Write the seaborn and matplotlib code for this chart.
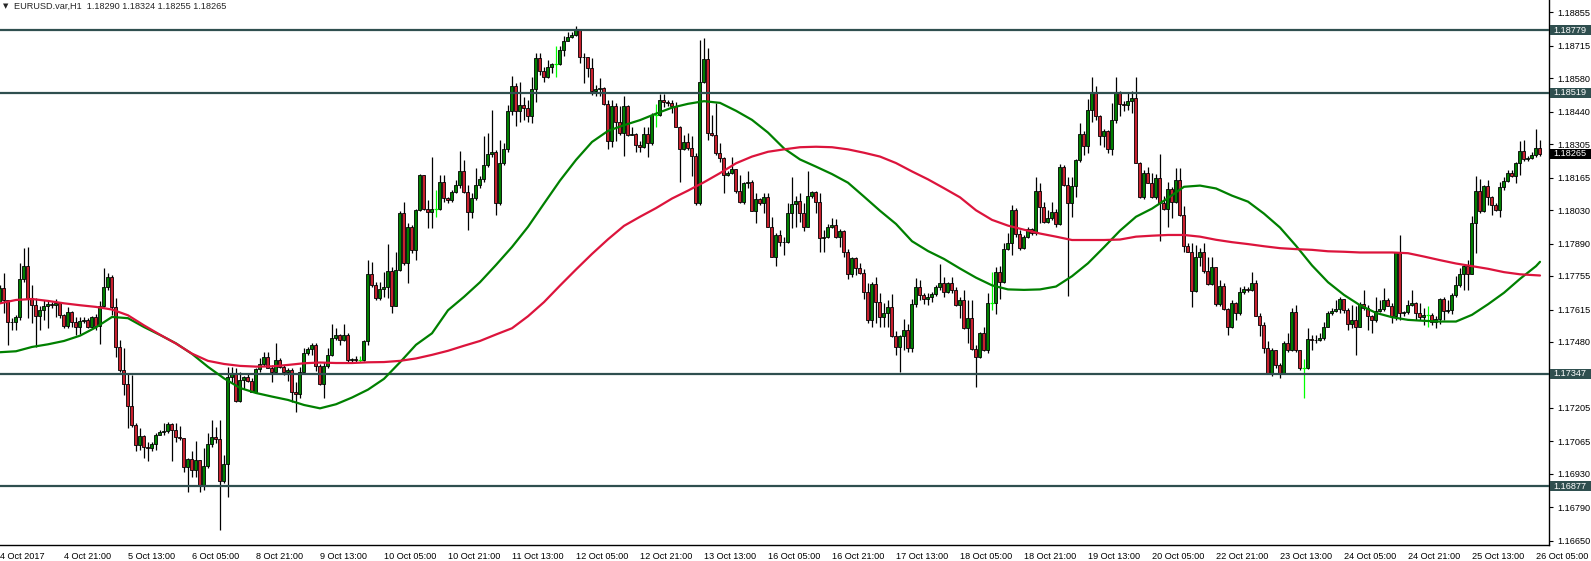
import numpy as np
import pandas as pd
import matplotlib
matplotlib.use("Agg")
import matplotlib.pyplot as plt
import matplotlib.transforms as mtransforms
from matplotlib.patches import Rectangle
import seaborn as sns

sns.set_style("white")
plt.rcParams["font.family"] = ["Liberation Sans", "DejaVu Sans"]

header = "EURUSD.var,H1  1.18290 1.18324 1.18255 1.18265"

# H1 bars, 4 Oct 05:00 .. 26 Oct 06:00 (open of each bar = close of previous)
first_open = 1.17648
closes = [
    1.17704, 1.17655, 1.17565, 1.17562, 1.17585, 1.17743, 1.17797, 1.17662, 1.17634, 1.17590,
    1.17613, 1.17630, 1.17638, 1.17635, 1.17641, 1.17592, 1.17547, 1.17604, 1.17562, 1.17541,
    1.17567, 1.17572, 1.17544, 1.17585, 1.17548, 1.17631, 1.17711, 1.17750, 1.17627, 1.17460,
    1.17363, 1.17303, 1.17214, 1.17134, 1.17050, 1.17088, 1.17043, 1.17039, 1.17053, 1.17092,
    1.17103, 1.17109, 1.17137, 1.17113, 1.17085, 1.17078, 1.16960, 1.16992, 1.16946, 1.16986,
    1.16881, 1.16964, 1.17053, 1.17084, 1.17074, 1.16900, 1.16972, 1.17335, 1.17349, 1.17234,
    1.17321, 1.17335, 1.17319, 1.17273, 1.17367, 1.17387, 1.17419, 1.17373, 1.17353, 1.17405,
    1.17377, 1.17353, 1.17363, 1.17270, 1.17264, 1.17356, 1.17433, 1.17451, 1.17467, 1.17381,
    1.17306, 1.17381, 1.17426, 1.17495, 1.17509, 1.17490, 1.17509, 1.17405, 1.17409, 1.17405,
    1.17405, 1.17484, 1.17762, 1.17718, 1.17665, 1.17701, 1.17711, 1.17776, 1.17630, 1.17781,
    1.18017, 1.17811, 1.17961, 1.17864, 1.18031, 1.18177, 1.18034, 1.18020, 1.18034, 1.18034,
    1.18145, 1.18079, 1.18070, 1.18107, 1.18135, 1.18191, 1.18107, 1.18020, 1.18079, 1.18135,
    1.18159, 1.18218, 1.18264, 1.18271, 1.18061, 1.18225, 1.18284, 1.18441, 1.18548, 1.18441,
    1.18469, 1.18455, 1.18423, 1.18534, 1.18663, 1.18608, 1.18584, 1.18626, 1.18640, 1.18640,
    1.18698, 1.18737, 1.18751, 1.18760, 1.18779, 1.18667, 1.18670, 1.18621, 1.18528, 1.18534,
    1.18538, 1.18473, 1.18316, 1.18464, 1.18399, 1.18350, 1.18464, 1.18343, 1.18349, 1.18302,
    1.18291, 1.18346, 1.18309, 1.18427, 1.18427, 1.18489, 1.18482, 1.18478, 1.18462, 1.18378,
    1.18284, 1.18312, 1.18288, 1.18256, 1.18061, 1.18566, 1.18659, 1.18350, 1.18343, 1.18267,
    1.18246, 1.18177, 1.18186, 1.18202, 1.18111, 1.18065, 1.18142, 1.18146, 1.18028, 1.18075,
    1.18059, 1.18086, 1.17961, 1.17836, 1.17927, 1.17895, 1.17898, 1.18016, 1.18055, 1.18068,
    1.18019, 1.17961, 1.18089, 1.18104, 1.18065, 1.17912, 1.17919, 1.17961, 1.17968, 1.17916,
    1.17943, 1.17856, 1.17762, 1.17829, 1.17787, 1.17769, 1.17690, 1.17572, 1.17720, 1.17645,
    1.17583, 1.17599, 1.17624, 1.17506, 1.17458, 1.17505, 1.17530, 1.17453, 1.17637, 1.17708,
    1.17676, 1.17658, 1.17666, 1.17680, 1.17708, 1.17724, 1.17690, 1.17724, 1.17697, 1.17634,
    1.17655, 1.17537, 1.17578, 1.17449, 1.17416, 1.17519, 1.17446, 1.17644, 1.17644, 1.17770,
    1.17731, 1.17866, 1.17894, 1.18030, 1.17930, 1.17870, 1.17919, 1.17950, 1.17933, 1.18109,
    1.18044, 1.17982, 1.17998, 1.18023, 1.17972, 1.18208, 1.18134, 1.18061, 1.18130, 1.18239,
    1.18347, 1.18297, 1.18447, 1.18519, 1.18422, 1.18339, 1.18361, 1.18283, 1.18406, 1.18519,
    1.18472, 1.18468, 1.18486, 1.18496, 1.18228, 1.18083, 1.18183, 1.18144, 1.18083, 1.18162,
    1.18058, 1.18033, 1.18117, 1.18065, 1.18156, 1.18010, 1.17878, 1.17857, 1.17694, 1.17836,
    1.17854, 1.17774, 1.17722, 1.17794, 1.17639, 1.17714, 1.17616, 1.17541, 1.17644, 1.17600,
    1.17690, 1.17701, 1.17697, 1.17725, 1.17589, 1.17551, 1.17454, 1.17350, 1.17447, 1.17384,
    1.17350, 1.17477, 1.17447, 1.17603, 1.17447, 1.17370, 1.17370, 1.17491, 1.17489, 1.17486,
    1.17496, 1.17544, 1.17600, 1.17610, 1.17616, 1.17658, 1.17614, 1.17555, 1.17572, 1.17544,
    1.17639, 1.17621, 1.17589, 1.17572, 1.17607, 1.17616, 1.17655, 1.17630, 1.17589, 1.17853,
    1.17600, 1.17604, 1.17635, 1.17641, 1.17600, 1.17583, 1.17593, 1.17593, 1.17565, 1.17575,
    1.17658, 1.17611, 1.17614, 1.17676, 1.17718, 1.17764, 1.17797, 1.17764, 1.17975, 1.18110,
    1.18024, 1.18131, 1.18084, 1.18052, 1.18031, 1.18125, 1.18153, 1.18186, 1.18172, 1.18228,
    1.18278, 1.18242, 1.18246, 1.18260, 1.18290, 1.18265,
]
highs = [
    1.17718, 1.17766, 1.17655, 1.17579, 1.17592, 1.17808, 1.17870, 1.17875, 1.17718, 1.17662,
    1.17631, 1.17655, 1.17655, 1.17648, 1.17659, 1.17648, 1.17595, 1.17627, 1.17609, 1.17585,
    1.17585, 1.17585, 1.17581, 1.17588, 1.17595, 1.17651, 1.17787, 1.17769, 1.17759, 1.17662,
    1.17488, 1.17453, 1.17345, 1.17342, 1.17141, 1.17120, 1.17092, 1.17064, 1.17064, 1.17099,
    1.17113, 1.17141, 1.17148, 1.17141, 1.17141, 1.17131, 1.17081, 1.16997, 1.17023, 1.17067,
    1.16984, 1.17036, 1.17099, 1.17155, 1.17127, 1.17155, 1.17009, 1.17377, 1.17377, 1.17373,
    1.17356, 1.17339, 1.17349, 1.17328, 1.17373, 1.17414, 1.17437, 1.17440, 1.17384, 1.17474,
    1.17414, 1.17384, 1.17373, 1.17373, 1.17314, 1.17377, 1.17456, 1.17460, 1.17474, 1.17474,
    1.17387, 1.17398, 1.17453, 1.17553, 1.17540, 1.17512, 1.17553, 1.17516, 1.17414, 1.17423,
    1.17423, 1.17488, 1.17822, 1.17812, 1.17731, 1.17729, 1.17773, 1.17888, 1.17794, 1.17857,
    1.18024, 1.18065, 1.17975, 1.17968, 1.18035, 1.18181, 1.18177, 1.18072, 1.18253, 1.18114,
    1.18177, 1.18177, 1.18086, 1.18114, 1.18156, 1.18277, 1.18239, 1.18135, 1.18100, 1.18204,
    1.18170, 1.18337, 1.18350, 1.18448, 1.18281, 1.18323, 1.18309, 1.18469, 1.18587, 1.18559,
    1.18566, 1.18503, 1.18489, 1.18584, 1.18687, 1.18684, 1.18628, 1.18656, 1.18645, 1.18715,
    1.18715, 1.18754, 1.18774, 1.18774, 1.18798, 1.18781, 1.18684, 1.18670, 1.18663, 1.18552,
    1.18580, 1.18545, 1.18489, 1.18489, 1.18476, 1.18462, 1.18506, 1.18469, 1.18378, 1.18350,
    1.18316, 1.18375, 1.18378, 1.18434, 1.18473, 1.18514, 1.18514, 1.18489, 1.18487, 1.18482,
    1.18381, 1.18343, 1.18350, 1.18337, 1.18267, 1.18740, 1.18747, 1.18705, 1.18427, 1.18476,
    1.18309, 1.18253, 1.18191, 1.18253, 1.18177, 1.18177, 1.18149, 1.18191, 1.18156, 1.18100,
    1.18079, 1.18100, 1.18100, 1.18000, 1.17933, 1.17947, 1.17919, 1.18058, 1.18166, 1.18089,
    1.18102, 1.18058, 1.18194, 1.18111, 1.18111, 1.18102, 1.17947, 1.17972, 1.17995, 1.17991,
    1.17950, 1.17947, 1.17866, 1.17836, 1.17836, 1.17811, 1.17783, 1.17724, 1.17731, 1.17752,
    1.17683, 1.17641, 1.17655, 1.17680, 1.17527, 1.17509, 1.17574, 1.17555, 1.17658, 1.17745,
    1.17738, 1.17686, 1.17686, 1.17690, 1.17717, 1.17805, 1.17749, 1.17731, 1.17752, 1.17711,
    1.17669, 1.17697, 1.17655, 1.17655, 1.17467, 1.17523, 1.17544, 1.17685, 1.17773, 1.17794,
    1.17797, 1.17891, 1.17936, 1.18051, 1.18037, 1.17947, 1.17926, 1.17961, 1.17954, 1.18166,
    1.18144, 1.18065, 1.18030, 1.18065, 1.18033, 1.18222, 1.18218, 1.18169, 1.18166, 1.18241,
    1.18394, 1.18361, 1.18492, 1.18583, 1.18547, 1.18426, 1.18367, 1.18364, 1.18478, 1.18586,
    1.18528, 1.18486, 1.18524, 1.18528, 1.18583, 1.18232, 1.18197, 1.18211, 1.18183, 1.18180,
    1.18264, 1.18089, 1.18149, 1.18128, 1.18204, 1.18204, 1.18047, 1.17894, 1.17894, 1.17885,
    1.17871, 1.17892, 1.17836, 1.17836, 1.17794, 1.17739, 1.17725, 1.17621, 1.17655, 1.17648,
    1.17711, 1.17714, 1.17711, 1.17773, 1.17739, 1.17600, 1.17565, 1.17482, 1.17454, 1.17447,
    1.17391, 1.17482, 1.17516, 1.17621, 1.17635, 1.17447, 1.17408, 1.17537, 1.17509, 1.17509,
    1.17516, 1.17561, 1.17611, 1.17621, 1.17655, 1.17669, 1.17658, 1.17621, 1.17635, 1.17628,
    1.17648, 1.17697, 1.17635, 1.17593, 1.17669, 1.17655, 1.17704, 1.17662, 1.17641, 1.17857,
    1.17926, 1.17607, 1.17655, 1.17697, 1.17648, 1.17641, 1.17621, 1.17628, 1.17600, 1.17586,
    1.17662, 1.17669, 1.17655, 1.17683, 1.17753, 1.17787, 1.17801, 1.17822, 1.18006, 1.18170,
    1.18159, 1.18135, 1.18156, 1.18089, 1.18061, 1.18149, 1.18167, 1.18198, 1.18195, 1.18232,
    1.18316, 1.18323, 1.18256, 1.18274, 1.18367, 1.18324,
]
lows = [
    1.17648, 1.17599, 1.17467, 1.17530, 1.17530, 1.17572, 1.17731, 1.17579, 1.17558, 1.17460,
    1.17530, 1.17572, 1.17540, 1.17620, 1.17585, 1.17579, 1.17540, 1.17540, 1.17544, 1.17509,
    1.17512, 1.17558, 1.17537, 1.17540, 1.17530, 1.17473, 1.17627, 1.17697, 1.17592, 1.17419,
    1.17356, 1.17259, 1.17120, 1.17127, 1.17023, 1.17029, 1.16995, 1.16984, 1.17025, 1.17029,
    1.17092, 1.17092, 1.17099, 1.16984, 1.17064, 1.17071, 1.16939, 1.16856, 1.16918, 1.16918,
    1.16856, 1.16863, 1.16953, 1.17043, 1.17057, 1.16696, 1.16890, 1.16835, 1.17307, 1.17228,
    1.17231, 1.17284, 1.17314, 1.17270, 1.17270, 1.17356, 1.17381, 1.17370, 1.17312, 1.17356,
    1.17370, 1.17342, 1.17319, 1.17231, 1.17189, 1.17245, 1.17353, 1.17426, 1.17426, 1.17359,
    1.17301, 1.17245, 1.17370, 1.17423, 1.17488, 1.17467, 1.17484, 1.17391, 1.17391, 1.17398,
    1.17398, 1.17401, 1.17467, 1.17711, 1.17655, 1.17655, 1.17669, 1.17665, 1.17600, 1.17628,
    1.17774, 1.17801, 1.17725, 1.17850, 1.17822, 1.18024, 1.18031, 1.17954, 1.17954, 1.18003,
    1.18031, 1.18065, 1.18061, 1.18065, 1.18100, 1.18121, 1.18100, 1.17947, 1.17996, 1.18072,
    1.18121, 1.18149, 1.18211, 1.18253, 1.18010, 1.18052, 1.18218, 1.18270, 1.18427, 1.18381,
    1.18399, 1.18406, 1.18399, 1.18395, 1.18482, 1.18594, 1.18566, 1.18580, 1.18601, 1.18584,
    1.18635, 1.18673, 1.18733, 1.18747, 1.18754, 1.18642, 1.18559, 1.18584, 1.18510, 1.18506,
    1.18506, 1.18469, 1.18284, 1.18295, 1.18320, 1.18343, 1.18256, 1.18337, 1.18342, 1.18270,
    1.18270, 1.18288, 1.18250, 1.18302, 1.18375, 1.18423, 1.18459, 1.18464, 1.18434, 1.18375,
    1.18145, 1.18281, 1.18281, 1.18170, 1.18052, 1.18052, 1.18559, 1.18323, 1.18339, 1.18260,
    1.18232, 1.18100, 1.18170, 1.18181, 1.18103, 1.18061, 1.18056, 1.18121, 1.18024, 1.17975,
    1.18052, 1.18017, 1.17958, 1.17833, 1.17797, 1.17878, 1.17843, 1.17891, 1.17954, 1.17961,
    1.17982, 1.17944, 1.17958, 1.18079, 1.18019, 1.17856, 1.17856, 1.17912, 1.17954, 1.17912,
    1.17877, 1.17836, 1.17742, 1.17752, 1.17759, 1.17763, 1.17658, 1.17560, 1.17544, 1.17560,
    1.17541, 1.17541, 1.17544, 1.17502, 1.17426, 1.17356, 1.17446, 1.17439, 1.17439, 1.17627,
    1.17655, 1.17638, 1.17634, 1.17648, 1.17672, 1.17697, 1.17669, 1.17686, 1.17686, 1.17630,
    1.17578, 1.17533, 1.17474, 1.17446, 1.17294, 1.17412, 1.17444, 1.17433, 1.17613, 1.17597,
    1.17658, 1.17724, 1.17863, 1.17843, 1.17919, 1.17863, 1.17866, 1.17912, 1.17926, 1.17926,
    1.17975, 1.17975, 1.17977, 1.17989, 1.17961, 1.17968, 1.18130, 1.17672, 1.18002, 1.18086,
    1.18232, 1.18260, 1.18267, 1.18399, 1.18406, 1.18301, 1.18292, 1.18267, 1.18260, 1.18392,
    1.18422, 1.18444, 1.18447, 1.18433, 1.18225, 1.18079, 1.18075, 1.18141, 1.18079, 1.18075,
    1.17902, 1.18030, 1.17961, 1.17996, 1.18061, 1.18006, 1.17857, 1.17853, 1.17625, 1.17690,
    1.17797, 1.17769, 1.17718, 1.17718, 1.17630, 1.17628, 1.17614, 1.17509, 1.17537, 1.17572,
    1.17593, 1.17680, 1.17690, 1.17694, 1.17586, 1.17503, 1.17433, 1.17347, 1.17339, 1.17370,
    1.17329, 1.17347, 1.17440, 1.17444, 1.17440, 1.17364, 1.17245, 1.17366, 1.17447, 1.17475,
    1.17482, 1.17489, 1.17541, 1.17593, 1.17603, 1.17600, 1.17600, 1.17530, 1.17537, 1.17426,
    1.17541, 1.17614, 1.17530, 1.17516, 1.17565, 1.17603, 1.17611, 1.17628, 1.17558, 1.17572,
    1.17572, 1.17589, 1.17597, 1.17630, 1.17572, 1.17572, 1.17551, 1.17544, 1.17551, 1.17537,
    1.17555, 1.17572, 1.17600, 1.17597, 1.17669, 1.17711, 1.17697, 1.17697, 1.17764, 1.17850,
    1.18017, 1.18020, 1.18052, 1.18010, 1.18028, 1.18000, 1.18114, 1.18149, 1.18167, 1.18142,
    1.18177, 1.18236, 1.18236, 1.18242, 1.18253, 1.18255,
]

# moving averages read every 4 bars
ma_idx = list(range(0, 385, 4)) + [385]
ma_fast = [
    1.17437, 1.17441, 1.17459, 1.17470, 1.17484, 1.17506, 1.17541, 1.17584, 1.17579, 1.17542,
    1.17509, 1.17474, 1.17430, 1.17376, 1.17328, 1.17288, 1.17267, 1.17252, 1.17238, 1.17217,
    1.17203, 1.17220, 1.17248, 1.17281, 1.17326, 1.17395, 1.17468, 1.17516, 1.17612, 1.17668,
    1.17729, 1.17801, 1.17876, 1.17960, 1.18057, 1.18153, 1.18239, 1.18314, 1.18360, 1.18384,
    1.18405, 1.18432, 1.18457, 1.18473, 1.18484, 1.18477, 1.18444, 1.18406, 1.18353, 1.18287,
    1.18241, 1.18211, 1.18180, 1.18144, 1.18086, 1.18027, 1.17972, 1.17900, 1.17859, 1.17826,
    1.17786, 1.17748, 1.17716, 1.17699, 1.17697, 1.17699, 1.17711, 1.17754, 1.17808, 1.17875,
    1.17944, 1.18002, 1.18036, 1.18080, 1.18127, 1.18132, 1.18120, 1.18090, 1.18065, 1.18015,
    1.17957, 1.17881, 1.17799, 1.17729, 1.17676, 1.17633, 1.17601, 1.17583, 1.17572, 1.17568,
    1.17565, 1.17565, 1.17593, 1.17637, 1.17685, 1.17743, 1.17796, 1.17814,
]
ma_slow = [
    1.17641, 1.17655, 1.17659, 1.17651, 1.17641, 1.17633, 1.17626, 1.17615, 1.17591, 1.17549,
    1.17510, 1.17473, 1.17431, 1.17401, 1.17388, 1.17380, 1.17377, 1.17378, 1.17384, 1.17391,
    1.17394, 1.17392, 1.17392, 1.17395, 1.17396, 1.17401, 1.17411, 1.17426, 1.17443, 1.17464,
    1.17484, 1.17511, 1.17537, 1.17587, 1.17646, 1.17715, 1.17782, 1.17847, 1.17908, 1.17964,
    1.18002, 1.18038, 1.18078, 1.18111, 1.18146, 1.18184, 1.18225, 1.18253, 1.18273, 1.18283,
    1.18292, 1.18294, 1.18292, 1.18283, 1.18269, 1.18253, 1.18226, 1.18191, 1.18158, 1.18121,
    1.18083, 1.18029, 1.17989, 1.17965, 1.17948, 1.17932, 1.17919, 1.17905, 1.17905, 1.17905,
    1.17907, 1.17919, 1.17923, 1.17926, 1.17926, 1.17919, 1.17906, 1.17896, 1.17888, 1.17879,
    1.17871, 1.17867, 1.17864, 1.17858, 1.17856, 1.17853, 1.17853, 1.17853, 1.17850, 1.17836,
    1.17821, 1.17807, 1.17796, 1.17785, 1.17771, 1.17762, 1.17758, 1.17757,
]

levels = [1.18779, 1.18519, 1.17347, 1.16877]
last_price = 1.18265
y_ticks = [1.18855, 1.18715, 1.18580, 1.18440, 1.18305, 1.18165, 1.18030, 1.17890, 1.17755,
           1.17615, 1.17480, 1.17205, 1.17065, 1.16930, 1.16790, 1.16650]
x_labels = ["4 Oct 2017", "4 Oct 21:00", "5 Oct 13:00", "6 Oct 05:00", "8 Oct 21:00",
            "9 Oct 13:00", "10 Oct 05:00", "10 Oct 21:00", "11 Oct 13:00", "12 Oct 05:00",
            "12 Oct 21:00", "13 Oct 13:00", "16 Oct 05:00", "16 Oct 21:00", "17 Oct 13:00",
            "18 Oct 05:00", "18 Oct 21:00", "19 Oct 13:00", "20 Oct 05:00", "22 Oct 21:00",
            "23 Oct 13:00", "24 Oct 05:00", "24 Oct 21:00", "25 Oct 13:00", "26 Oct 05:00"]

df = pd.DataFrame({"close": closes, "high": highs, "low": lows})
df["open"] = [first_open] + closes[:-1]
df["i"] = np.arange(len(df))
df["hi"] = df[["high", "open", "close"]].max(axis=1)
df["lo"] = df[["low", "open", "close"]].min(axis=1)
doji = np.isclose(df["open"], df["close"], atol=1e-7)
up = (df["close"] > df["open"]) & ~doji
dn = (df["close"] < df["open"]) & ~doji

W, H = 1591, 561
fig = plt.figure(figsize=(W / 100, H / 100), dpi=100)
ax = fig.add_axes([0, 16 / H, 1549 / W, 545 / H])

# candles
d = df[~doji]
ax.vlines(d["i"], d["lo"], d["hi"], color="black", lw=0.9, zorder=2)
for mask, col in [(up, "#008000"), (dn, "#C8202E")]:
    s = df[mask]
    ax.bar(s["i"], (s["close"] - s["open"]).abs(), bottom=s[["open", "close"]].min(axis=1),
           width=0.75, color=col, edgecolor="black", linewidth=0.6, zorder=3)
s = df[doji]
ax.vlines(s["i"], s["lo"], s["hi"], color="#00FF00", lw=0.9, zorder=3)
ax.hlines(s["close"], s["i"] - 0.4, s["i"] + 0.4, color="#00FF00", lw=0.9, zorder=3)

# moving averages
sns.lineplot(x=ma_idx, y=ma_fast, color="#008000", linewidth=1.6, ax=ax, zorder=5)
sns.lineplot(x=ma_idx, y=ma_slow, color="#DC143C", linewidth=1.6, ax=ax, zorder=5)

for lv in levels:
    ax.axhline(lv, color="#2F4F4F", lw=1.6, zorder=4)

ax.set_xlim(0, 387.25)
ax.set_ylim(1.16633, 1.18906)

for side in ["left", "top"]:
    ax.spines[side].set_visible(False)
for side in ["right", "bottom"]:
    ax.spines[side].set_color("black")
    ax.spines[side].set_linewidth(1.0)

ax.yaxis.tick_right()
ax.set_yticks(y_ticks)
ax.set_yticklabels([f"{v:.5f}" for v in y_ticks])
ax.set_xticks(range(0, 385, 16))
ax.set_xticklabels(x_labels)
for lbl in ax.get_xticklabels():
    lbl.set_ha("left")
ax.tick_params(axis="y", direction="out", length=3, width=0.8, pad=3, labelsize=6.6, colors="black")
ax.tick_params(axis="x", direction="out", length=4, width=0.8, pad=1, labelsize=6.6, colors="black")
ax.set_xlabel("")
ax.set_ylabel("")

# price boxes on the right scale
trans = mtransforms.blended_transform_factory(fig.transFigure, ax.transData)
box_h = 10 / 23977
for lv, fc in [(v, "#2F4F4F") for v in levels] + [(last_price, "black")]:
    ax.add_patch(Rectangle((1550 / W, lv - box_h / 2), 41 / W, box_h, transform=trans,
                           facecolor=fc, edgecolor="none", clip_on=False, zorder=10))
    ax.text(1553 / W, lv, f"{lv:.5f}", transform=trans, color="white", fontsize=6.6,
            ha="left", va="center", zorder=11, clip_on=False)

fig.text(3 / W, 1 - 6 / H, "\u25BC", fontsize=5, ha="left", va="center",
         family=["DejaVu Sans"])
fig.text(14 / W, 1 - 6 / H, header, fontsize=6.6, ha="left", va="center")

fig.savefig("out.png", dpi=100)
